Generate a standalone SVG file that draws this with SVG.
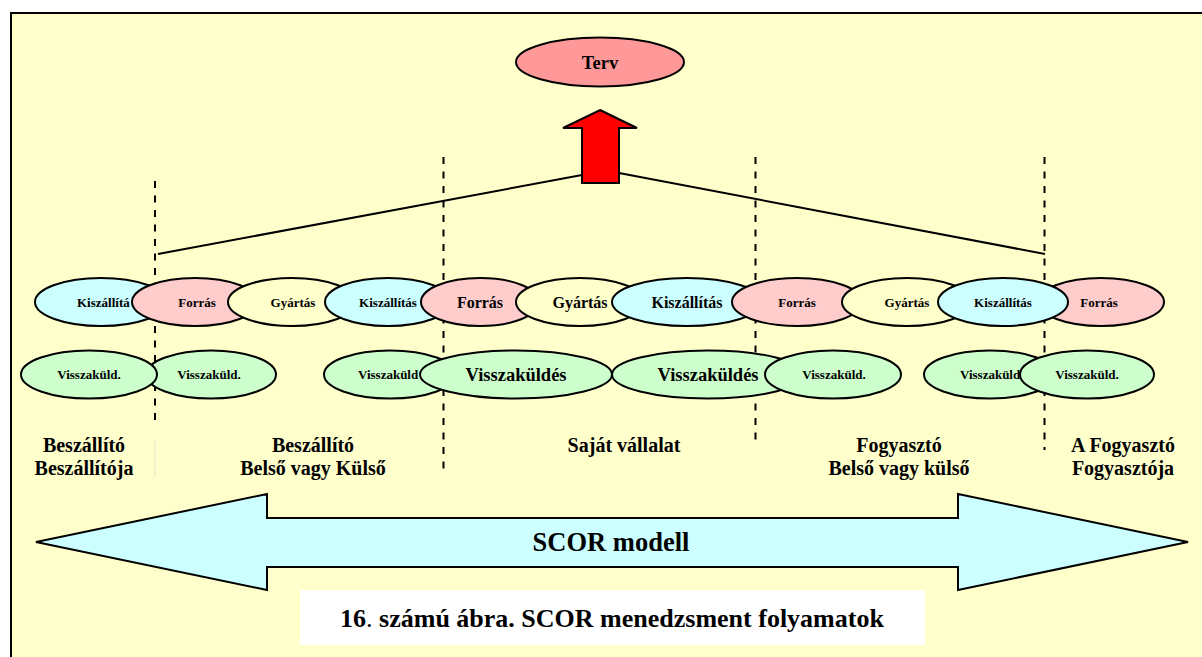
<svg xmlns="http://www.w3.org/2000/svg" width="1202" height="657" viewBox="0 0 1202 657">
  <style>
    text { font-family: "Liberation Serif", "Times New Roman", serif; font-weight: bold; fill: #000; }
    .node { stroke: #000; stroke-width: 2; }
    .kisz { fill: #CCFFFF; }
    .forr { fill: #FFCCCC; }
    .gyar { fill: #FFFFCC; }
    .vissza { fill: #CCFFCC; }
    .s13 { font-size: 13px; }
    .s16 { font-size: 16px; }
    .s18 { font-size: 18.5px; }
    .lbl { font-size: 20px; text-anchor: middle; }
    .mid { text-anchor: middle; }
    .divider { stroke: #000; stroke-width: 2; stroke-dasharray: 7 7.5; fill: none; }
    .link { stroke: #000; stroke-width: 2; fill: none; }
  </style>

  <!-- page frame -->
  <rect x="0" y="0" width="1202" height="657" fill="#FFFFFF"/>
  <rect x="11" y="13" width="1200" height="660" fill="#FFFFCC" stroke="#000" stroke-width="2"/>

  <!-- plan node -->
  <g id="terv">
    <ellipse class="node" cx="600" cy="62" rx="84" ry="24.5" fill="#FF9999"/>
    <text class="mid" x="600" y="68.5" font-size="18.5">Terv</text>
  </g>

  <!-- upward arrow into the plan -->
  <g id="plan-arrow">
    <polygon class="node" fill="#FF0000" points="600,110 637,128 619,128 619,183 582,183 582,128 563,128"/>
  </g>

  <!-- lines gathering the chain into the plan -->
  <g id="connectors">
    <polyline class="link" points="158,254 582,175"/>
    <polyline class="link" points="619,173 1045,254"/>
  </g>

  <!-- boundaries between the chain members -->
  <g id="dividers">
    <line class="divider" x1="155" y1="181" x2="155" y2="424"/>
    <line x1="155" y1="440" x2="155" y2="477" stroke="#E2E2C8" stroke-width="1"/>
    <line class="divider" x1="443.5" y1="157" x2="443.5" y2="472"/>
    <line class="divider" x1="755.5" y1="157" x2="755.5" y2="445"/>
    <line class="divider" x1="1044.5" y1="157" x2="1044.5" y2="450"/>
  </g>

  <!-- process row: delivery / source / make -->
  <g id="kiszallitas-1">
    <ellipse class="node kisz" cx="101" cy="302" rx="66" ry="24"/>
    <text class="s13" x="77" y="306.5">Kiszállítá</text>
  </g>
  <g id="forras-1">
    <ellipse class="node forr" cx="195" cy="302" rx="63" ry="24"/>
    <text class="s13 mid" x="197" y="306.5">Forrás</text>
  </g>
  <g id="gyartas-1">
    <ellipse class="node gyar" cx="292" cy="302" rx="64" ry="24"/>
    <text class="s13 mid" x="293" y="306.5">Gyártás</text>
  </g>
  <g id="kiszallitas-2">
    <ellipse class="node kisz" cx="388" cy="302" rx="63" ry="24"/>
    <text class="s13 mid" x="388" y="306.5">Kiszállítás</text>
  </g>
  <g id="forras-2">
    <ellipse class="node forr" cx="480" cy="302" rx="59" ry="24"/>
    <text class="s16 mid" x="480" y="307.5">Forrás</text>
  </g>
  <g id="gyartas-2">
    <ellipse class="node gyar" cx="580" cy="302" rx="64" ry="24"/>
    <text class="s16 mid" x="580" y="307.5">Gyártás</text>
  </g>
  <g id="kiszallitas-3">
    <ellipse class="node kisz" cx="687" cy="302" rx="75" ry="24"/>
    <text class="s16 mid" x="687" y="307.5">Kiszállítás</text>
  </g>
  <g id="forras-3">
    <ellipse class="node forr" cx="797" cy="302" rx="65" ry="24"/>
    <text class="s13 mid" x="797" y="306.5">Forrás</text>
  </g>
  <g id="gyartas-3">
    <ellipse class="node gyar" cx="907" cy="302" rx="65" ry="24"/>
    <text class="s13 mid" x="907" y="306.5">Gyártás</text>
  </g>
  <g id="forras-4">
    <ellipse class="node forr" cx="1101" cy="302" rx="63" ry="24"/>
    <text class="s13 mid" x="1099" y="306.5">Forrás</text>
  </g>
  <g id="kiszallitas-4">
    <ellipse class="node kisz" cx="1003" cy="302" rx="65" ry="24"/>
    <text class="s13 mid" x="1003" y="306.5">Kiszállítás</text>
  </g>

  <!-- return row -->
  <g id="vissza-2">
    <ellipse class="node vissza" cx="211" cy="374.5" rx="65" ry="24"/>
    <text class="s13 mid" x="209" y="379">Visszaküld.</text>
  </g>
  <g id="vissza-1">
    <ellipse class="node vissza" cx="89" cy="374.5" rx="68" ry="24"/>
    <text class="s13 mid" x="89" y="379">Visszaküld.</text>
  </g>
  <g id="vissza-3">
    <ellipse class="node vissza" cx="390" cy="374.5" rx="66" ry="24"/>
    <text class="s13" x="358" y="379">Visszaküld</text>
  </g>
  <g id="vissza-4">
    <ellipse class="node vissza" cx="516" cy="374.5" rx="96" ry="24"/>
    <text class="s18 mid" x="516" y="381">Visszaküldés</text>
  </g>
  <g id="vissza-5">
    <ellipse class="node vissza" cx="708" cy="374.5" rx="96" ry="24"/>
    <text class="s18 mid" x="708" y="381">Visszaküldés</text>
  </g>
  <g id="vissza-6">
    <ellipse class="node vissza" cx="833" cy="374.5" rx="68" ry="24"/>
    <text class="s13 mid" x="834" y="379">Visszaküld.</text>
  </g>
  <g id="vissza-7">
    <ellipse class="node vissza" cx="990" cy="374.5" rx="66" ry="24"/>
    <text class="s13" x="960" y="379">Visszaküld</text>
  </g>
  <g id="vissza-8">
    <ellipse class="node vissza" cx="1087" cy="374.5" rx="67" ry="24"/>
    <text class="s13 mid" x="1087" y="379">Visszaküld.</text>
  </g>

  <!-- chain member captions -->
  <g id="labels">
    <text class="lbl" x="84" y="452">Beszállító</text>
    <text class="lbl" x="84" y="475">Beszállítója</text>
    <text class="lbl" x="313" y="452">Beszállító</text>
    <text class="lbl" x="313" y="475">Belső vagy Külső</text>
    <text class="lbl" x="624" y="452">Saját vállalat</text>
    <text class="lbl" x="899" y="452">Fogyasztó</text>
    <text class="lbl" x="899" y="475">Belső vagy külső</text>
    <text class="lbl" x="1123" y="452">A Fogyasztó</text>
    <text class="lbl" x="1123" y="475">Fogyasztója</text>
  </g>

  <!-- model span arrow -->
  <g id="scor-arrow">
    <polygon class="node" fill="#CCFFFF" points="36,542 267,494 267,518 958,518 958,494 1188,542 958,590 958,567 267,567 267,590"/>
    <text class="mid" x="611" y="551" font-size="26.5">SCOR modell</text>
  </g>

  <!-- caption -->
  <g id="caption">
    <rect x="300" y="590" width="625" height="55" fill="#FFFFFF"/>
    <text class="mid" x="612" y="627" font-size="26">16<tspan font-weight="normal">.</tspan> számú ábra. SCOR menedzsment folyamatok</text>
  </g>
</svg>
